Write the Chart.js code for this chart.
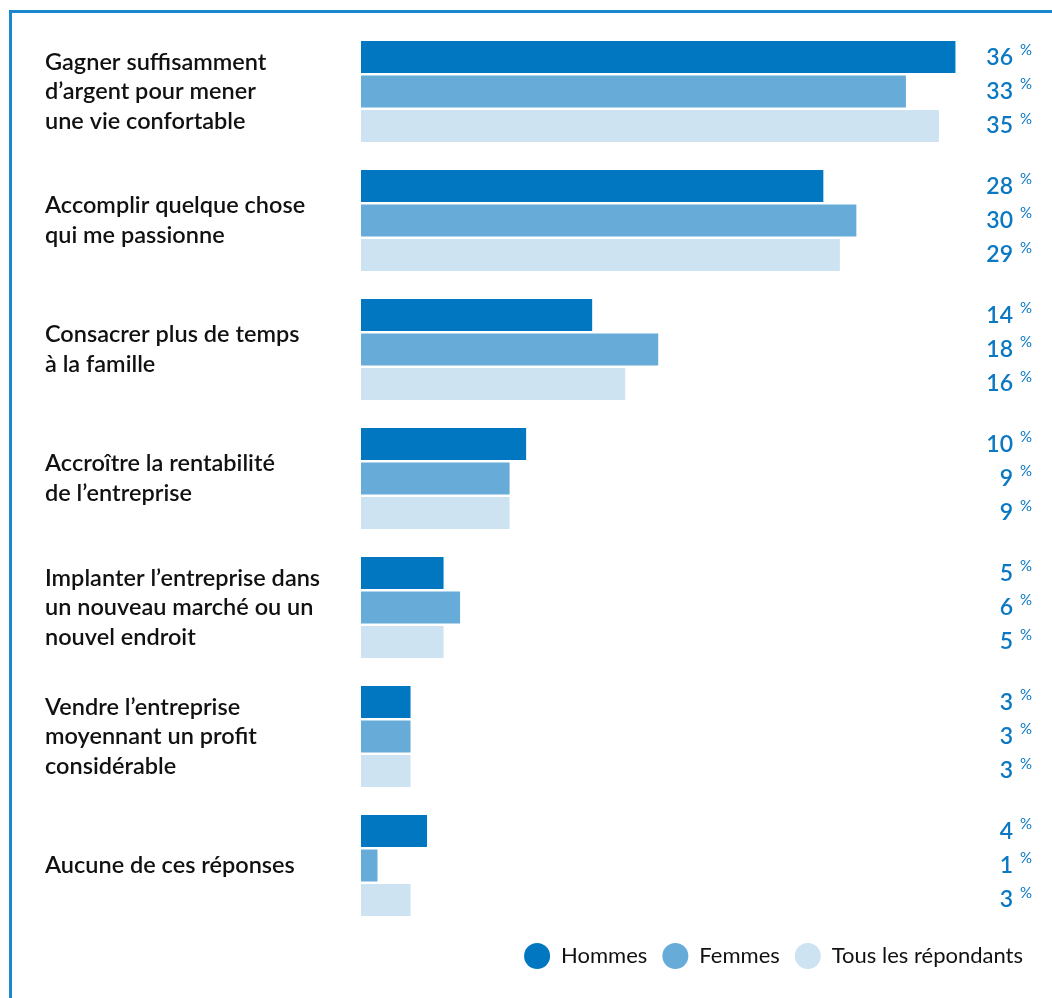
<!DOCTYPE html>
<html>
<head>
<meta charset="utf-8">
<script src="https://cdn.jsdelivr.net/npm/chart.js@4"></script>
<style>
  html, body { margin: 0; padding: 0; background: #fff; }
  #wrap { position: relative; width: 1052px; height: 998px; }
  canvas { display: block; }
</style>
</head>
<body>
<div id="wrap"><canvas id="c" width="1052" height="998"></canvas></div>
<script>
// Objectifs personnels, par sexe (%)
const categories = [
  ['Gagner suffisamment', 'd’argent pour mener', 'une vie confortable'],
  ['Accomplir quelque chose', 'qui me passionne'],
  ['Consacrer plus de temps', 'à la famille'],
  ['Accroître la rentabilité', 'de l’entreprise'],
  ['Implanter l’entreprise dans', 'un nouveau marché ou un', 'nouvel endroit'],
  ['Vendre l’entreprise', 'moyennant un profit', 'considérable'],
  ['Aucune de ces réponses']
];
const seriesNames = ['Hommes', 'Femmes', 'Tous les répondants'];
const hommes = [36, 28, 14, 10, 5, 3, 4];
const femmes = [33, 30, 18, 9, 6, 3, 1];
const tous = [35, 29, 16, 9, 5, 3, 3];

const seriesColors = ['#0077c0', '#67acd9', '#cde3f1'];
const FONT = 'Lato';

// White page with the blue frame on the top and left edges
const framePlugin = {
  id: 'frame',
  beforeDraw(chart) {
    const ctx = chart.ctx;
    ctx.save();
    ctx.fillStyle = '#ffffff';
    ctx.fillRect(0, 0, chart.width, chart.height);
    ctx.fillStyle = '#1b87d0';
    ctx.fillRect(9, 10, chart.width - 9, 3);
    ctx.fillRect(9, 10, 3, chart.height - 10);
    ctx.restore();
  }
};

// Percentage labels in a right-hand column, one per bar
const valueLabels = {
  id: 'valueLabels',
  afterDatasetsDraw(chart) {
    const ctx = chart.ctx;
    ctx.save();
    ctx.fillStyle = '#0a78c2';
    chart.data.datasets.forEach((ds, di) => {
      const meta = chart.getDatasetMeta(di);
      meta.data.forEach((bar, i) => {
        const y = bar.y;
        ctx.font = `600 23px ${FONT}`;
        ctx.textAlign = 'right';
        ctx.textBaseline = 'middle';
        ctx.fillText(String(ds.data[i]), 1013, y);
        ctx.font = `400 15px ${FONT}`;
        ctx.textAlign = 'left';
        ctx.fillText('%', 1020, y - 7);
      });
    });
    ctx.restore();
  }
};

new Chart(document.getElementById('c'), {
  type: 'bar',
  data: {
    labels: categories,
    datasets: [
      { label: seriesNames[0], data: hommes, backgroundColor: seriesColors[0] },
      { label: seriesNames[1], data: femmes, backgroundColor: seriesColors[1] },
      { label: seriesNames[2], data: tous, backgroundColor: seriesColors[2] }
    ]
  },
  options: {
    responsive: false,
    animation: false,
    indexAxis: 'y',
    datasets: {
      bar: { categoryPercentage: 0.80, barPercentage: 0.93, borderWidth: 0 }
    },
    layout: { padding: { left: 45, right: 14, top: 27, bottom: 21 } },
    scales: {
      x: { display: false, min: 0, max: 41 },
      y: {
        grid: { display: false },
        border: { display: false },
        afterFit(scale) { scale.width = 316; },
        ticks: {
          crossAlign: 'far',
          color: '#111111',
          font: { family: FONT, size: 23.5, weight: '600', lineHeight: 1.255 }
        }
      }
    },
    plugins: {
      legend: {
        position: 'bottom',
        align: 'end',
        labels: {
          usePointStyle: true,
          pointStyle: 'circle',
          pointStyleWidth: 26,
          boxHeight: 18.4,
          padding: 15,
          color: '#111111',
          font: { family: FONT, size: 22, weight: '400' }
        }
      },
      tooltip: { enabled: false }
    }
  },
  plugins: [framePlugin, valueLabels]
});
</script>
</body>
</html>
